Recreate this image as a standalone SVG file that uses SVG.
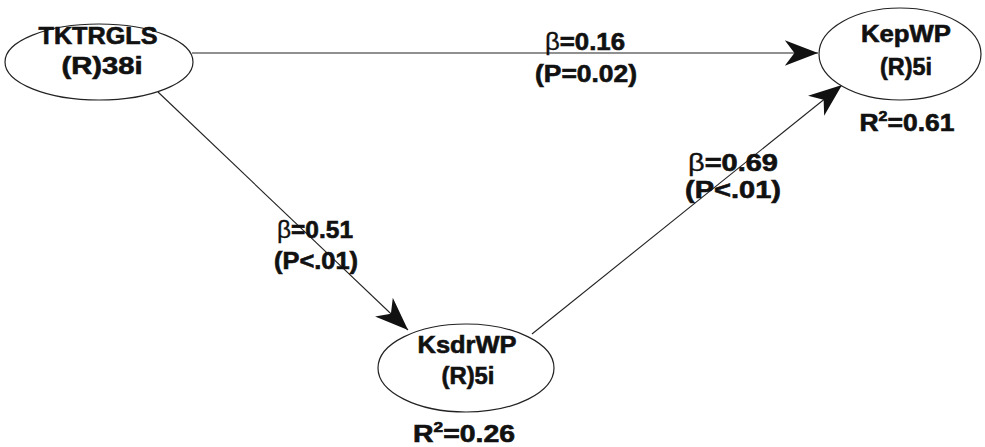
<svg xmlns="http://www.w3.org/2000/svg" width="985" height="447" viewBox="0 0 985 447">
<style>
.node ellipse{fill:#fff;stroke:#222;stroke-width:1.2}
text{font-family:"Liberation Sans",Arial,sans-serif;font-weight:bold;font-size:23px;fill:#111;stroke:#111;stroke-width:0.6;text-anchor:middle}
.b{font-weight:normal;stroke-width:0.3}
.sup{font-size:14px}
.conn line{stroke:#222;stroke-width:1.1}
</style>
<defs>
<marker id="ah" markerUnits="userSpaceOnUse" markerWidth="40" markerHeight="30" viewBox="-32 -14 34 28" refX="0" refY="0" orient="auto">
<path d="M0,0 L-31,-12 L-22,0 L-31,12 Z" fill="#111"/>
</marker>
</defs>
<rect width="985" height="447" fill="#fff"/>
<g class="conn">
<line x1="192" y1="53" x2="818" y2="53" marker-end="url(#ah)"/>
<line x1="158" y1="92" x2="408" y2="330" marker-end="url(#ah)"/>
<line x1="532" y1="334" x2="842" y2="85" marker-end="url(#ah)"/>
<text x="585" y="50" textLength="80" lengthAdjust="spacingAndGlyphs"><tspan class="b">β</tspan>=0.16</text>
<text x="586" y="82" textLength="102" lengthAdjust="spacingAndGlyphs">(P=0.02)</text>
<text x="315" y="238" textLength="76" lengthAdjust="spacingAndGlyphs"><tspan class="b">β</tspan>=0.51</text>
<text x="316" y="269" textLength="84" lengthAdjust="spacingAndGlyphs">(P&lt;.01)</text>
<text x="733" y="171" textLength="90" lengthAdjust="spacingAndGlyphs"><tspan class="b">β</tspan>=0.69</text>
<text x="733" y="198" textLength="96" lengthAdjust="spacingAndGlyphs">(P&lt;.01)</text>
</g>
<g id="TKTRGLS" class="node">
<ellipse cx="99" cy="62" rx="94" ry="38"/>
<text x="98" y="44" textLength="119" lengthAdjust="spacingAndGlyphs">TKTRGLS</text>
<text x="102" y="74" textLength="81" lengthAdjust="spacingAndGlyphs">(R)38i</text>
</g>
<g id="KepWP" class="node">
<ellipse cx="900" cy="54" rx="81" ry="46"/>
<text x="906" y="42" textLength="90" lengthAdjust="spacingAndGlyphs">KepWP</text>
<text x="906" y="75" textLength="52" lengthAdjust="spacingAndGlyphs">(R)5i</text>
<text x="907" y="131" textLength="95" lengthAdjust="spacingAndGlyphs">R<tspan class="sup" dy="-10">2</tspan><tspan dy="10">=0.61</tspan></text>
</g>
<g id="KsdrWP" class="node">
<ellipse cx="466" cy="368" rx="88" ry="44"/>
<text x="467" y="353" textLength="99" lengthAdjust="spacingAndGlyphs">KsdrWP</text>
<text x="468" y="384" textLength="53" lengthAdjust="spacingAndGlyphs">(R)5i</text>
<text x="464" y="442" textLength="102" lengthAdjust="spacingAndGlyphs">R<tspan class="sup" dy="-10">2</tspan><tspan dy="10">=0.26</tspan></text>
</g>
</svg>
